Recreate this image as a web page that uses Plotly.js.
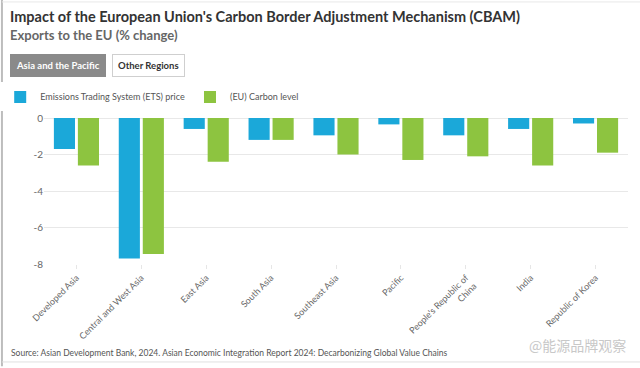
<!DOCTYPE html>
<html><head><meta charset="utf-8">
<script src="https://cdn.plot.ly/plotly-3.0.1.min.js"></script>
<style>html,body{margin:0;padding:0;background:#fff}#chart{width:640px;height:368px}</style>
</head><body><div id="chart"></div>
<script>
const categories = ["Developed Asia","Central and West Asia","East Asia","South Asia","Southeast Asia","Pacific","People's Republic of<br>China","India","Republic of Korea"];
const etsValues = [-1.7,-7.7,-0.6,-1.2,-0.95,-0.35,-0.95,-0.6,-0.3];
const carbonValues = [-2.6,-7.45,-2.4,-1.2,-2.0,-2.3,-2.1,-2.6,-1.9];
const seriesNames = ["Emissions Trading System (ETS) price","(EU) Carbon level"];
const yTicks = [0,-2,-4,-6,-8];

const FONT = "Lato, 'Open Sans', sans-serif";
const traces = [
  {type:'bar', name:seriesNames[0], x:categories, y:etsValues, marker:{color:'#1ba8d9'}, hoverinfo:'x+y'},
  {type:'bar', name:seriesNames[1], x:categories, y:carbonValues, marker:{color:'#8dc440'}, hoverinfo:'x+y'}
];
const layout = {
  width:640, height:368,
  margin:{l:44, r:12, t:118, b:104, autoexpand:false},
  paper_bgcolor:'#fff', plot_bgcolor:'#fff',
  font:{family:FONT, color:'#555', size:10},
  barmode:'group', bargap:0.26, bargroupgap:0.12,
  showlegend:true,
  legend:{orientation:'h', x:-0.075, xanchor:'left', y:1.144, yanchor:'middle',
          font:{size:9, color:'#555', family:FONT}, itemwidth:30, tracegroupgap:0, traceorder:'normal'},
  xaxis:{automargin:false, tickangle:-45, tickfont:{size:9, color:'#666', family:FONT}, showgrid:false,
         ticks:'outside', ticklen:4, tickcolor:'#e6e6e6', showline:false, zeroline:false},
  yaxis:{automargin:false, range:[-8,0], tickvals:yTicks, ticktext:yTicks.map(String), gridcolor:'#e8e8e8',
         zeroline:true, zerolinecolor:'#e8e8e8', tickfont:{size:10, color:'#666', family:FONT},
         ticks:'', showline:false},
  annotations:[
    {xref:'paper', yref:'paper', x:-0.062, y:1.692, xanchor:'left', yanchor:'middle', showarrow:false,
     text:"<b>Impact of the European Union's Carbon Border Adjustment Mechanism (CBAM)</b>",
     font:{size:14.5, color:'#333', family:FONT}},
    {xref:'paper', yref:'paper', x:-0.062, y:1.568, xanchor:'left', yanchor:'middle', showarrow:false,
     text:"<b>Exports to the EU (% change)</b>", font:{size:13, color:'#666', family:FONT}},
    {xref:'paper', yref:'paper', x:-0.058, y:1.363, xanchor:'left', yanchor:'middle', showarrow:false,
     text:"<b>Asia and the Pacific</b>", font:{size:9.5, color:'#fff', family:FONT},
     bgcolor:'#8a8a8a', bordercolor:'#8a8a8a', borderwidth:1, borderpad:5},
    {xref:'paper', yref:'paper', x:0.117, y:1.363, xanchor:'left', yanchor:'middle', showarrow:false,
     text:"<b>Other Regions</b>", font:{size:9.5, color:'#333', family:FONT},
     bgcolor:'#fff', bordercolor:'#cfcfcf', borderwidth:1, borderpad:5},
    {xref:'paper', yref:'paper', x:-0.06, y:-0.61, xanchor:'left', yanchor:'middle', showarrow:false,
     text:"Source: Asian Development Bank, 2024. Asian Economic Integration Report 2024: Decarbonizing Global Value Chains",
     font:{size:8.5, color:'#555', family:FONT}},
    {xref:'paper', yref:'paper', x:1.0, y:-0.555, xanchor:'right', yanchor:'middle', showarrow:false,
     text:"@能源品牌观察", font:{size:14, color:'#c8c8c8', family:"'Noto Sans CJK SC', sans-serif"}}
  ],
  shapes:[
    {type:'line', xref:'paper', yref:'paper', x0:-0.072, x1:-0.072, y0:-0.70, y1:1.81, line:{color:'#bdbdbd', width:2}},
    {type:'line', xref:'paper', yref:'paper', x0:-0.072, x1:1.03, y0:-0.671, y1:-0.671, line:{color:'#e0e0e0', width:1}},
    {type:'line', xref:'paper', yref:'paper', x0:-0.072, x1:1.03, y0:1.795, y1:1.795, line:{color:'#e8e8e8', width:1}}
  ]
};
Plotly.newPlot('chart', traces, layout, {displayModeBar:false, staticPlot:true});
</script></body></html>
